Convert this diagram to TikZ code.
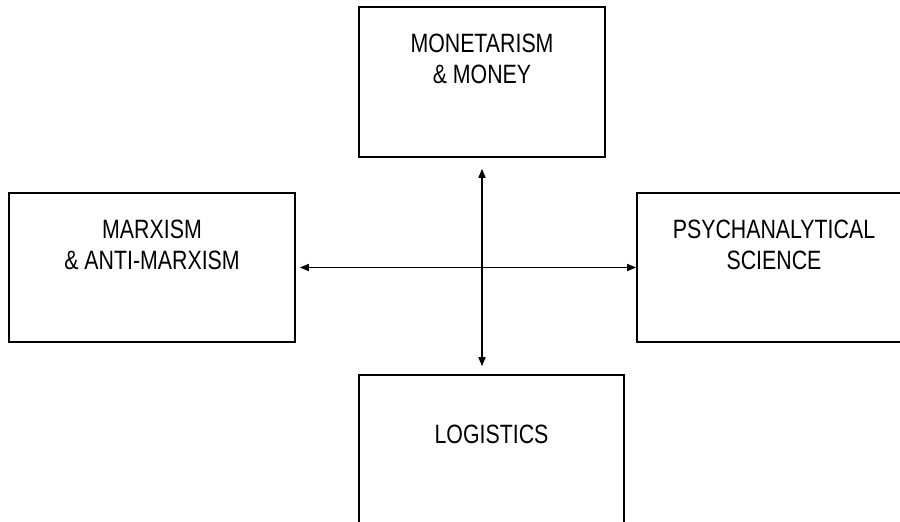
\documentclass[tikz,border=0pt]{standalone}
\usepackage{fontspec}
\setmainfont{Liberation Sans}
\usepackage{tikz}
\usetikzlibrary{arrows.meta,positioning}

\begin{document}
\begin{tikzpicture}
[
    x = 1pt, y = 1pt,
    box/.style = {draw, line width = 1.6pt, inner sep = 0pt},
    boxtext/.style = {anchor = north, inner sep = 0pt, align = center,
                      font = \fontsize{26.5}{30.7}\selectfont\addfontfeature{FakeStretch=0.805}},
    link/.style = {line width = 1.5pt, {Triangle[length=9pt,width=7pt]}-{Triangle[length=9pt,width=7pt]}}
]
\useasboundingbox (0,0) rectangle (900,522);

% the four fields
\node[box, minimum width = 246pt, minimum height = 150pt] (money) at (482,440) {};
\node[box, minimum width = 286pt, minimum height = 149pt] (marx) at (152,254.5) {};
\node[box, minimum width = 274pt, minimum height = 149pt] (psych) at (774,254.5) {};
\node[box, minimum width = 265pt, minimum height = 150pt] (logistics) at (491.5,72) {};

% their titles
\node[boxtext, below = 27.5pt of money.north] (moneytext) {MONETARISM\\\& MONEY};
\node[boxtext, below = 27.5pt of marx.north] (marxtext) {MARXISM\\\& ANTI-MARXISM};
\node[boxtext, below = 27.5pt of psych.north] (psychtext) {PSYCHANALYTICAL\\SCIENCE};
\node[boxtext, below = 51pt of logistics.north] (logisticstext) {LOGISTICS};

% the cross
\draw[link, shorten <= 4pt] (marx.east) -- (psych.west);
\draw[link, shorten <= 11pt, shorten >= 8pt] (money.south) -- (money.south |- logistics.north);
\end{tikzpicture}
\end{document}
